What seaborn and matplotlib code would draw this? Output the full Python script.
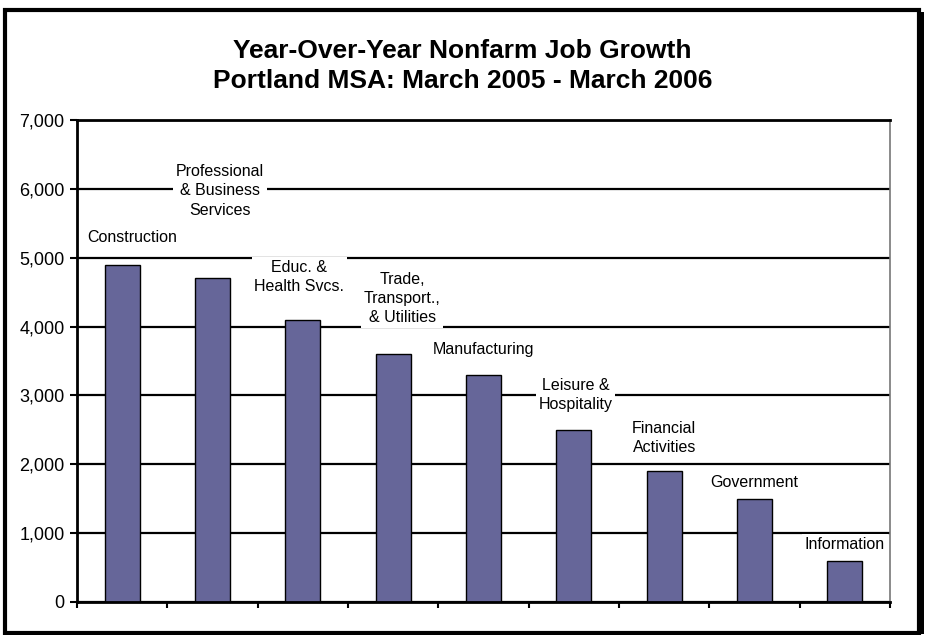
import matplotlib
matplotlib.use('Agg')
import matplotlib.pyplot as plt
from matplotlib.patches import Rectangle
import seaborn as sns
import numpy as np
import pandas as pd

# data
sectors = ['Construction', 'Professional\n& Business\nServices', 'Educ. &\nHealth Svcs.',
           'Trade,\nTransport.,\n& Utilities', 'Manufacturing', 'Leisure &\nHospitality',
           'Financial\nActivities', 'Government', 'Information']
job_growth = [4900, 4700, 4100, 3600, 3300, 2500, 1900, 1500, 600]
y_ticks = [0, 1000, 2000, 3000, 4000, 5000, 6000, 7000]

# where the category labels sit (layout only)
label_y = [5300, 5970, 4720, 4410, 3670, 3010, 2380, 1740, 840]
label_dx = [0.11, 0.08, -0.04, 0.10, 0.0, 0.02, 0.0, 0.0, 0.0]

df = pd.DataFrame({'sector': sectors, 'growth': job_growth})

sns.set_style('white')
plt.rcParams['font.family'] = ['Liberation Sans', 'DejaVu Sans']
plt.rcParams['text.color'] = 'black'
plt.rcParams['xtick.color'] = 'black'
plt.rcParams['ytick.color'] = 'black'

fig = plt.figure(figsize=(9.25, 6.35), dpi=100)
ax = fig.add_axes([77/925, 33/635, 813/925, 482/635])

sns.barplot(data=df, x='sector', y='growth', color='#666699', saturation=1,
            edgecolor='black', linewidth=1, width=0.39, ax=ax)

ax.set_xlim(-0.5, len(sectors) - 0.5)
ax.set_ylim(0, 7000)
ax.set_yticks(y_ticks)
ax.set_yticklabels([f'{v:,}' for v in y_ticks], fontsize=13, color='black')
ax.set_xticks(np.arange(-0.5, len(sectors)))
ax.set_xticklabels([])
ax.set_xlabel('')
ax.set_ylabel('')
ax.tick_params(axis='y', direction='out', length=5, width=1.5, color='black', pad=4, left=True)
ax.tick_params(axis='x', direction='out', length=4, width=1.5, color='black', bottom=True)

ax.yaxis.grid(True, color='black', linewidth=1.6)
ax.set_axisbelow(True)
for side in ['left', 'bottom', 'top']:
    ax.spines[side].set_color('black')
    ax.spines[side].set_linewidth(2)
ax.spines['right'].set_color('#777777')
ax.spines['right'].set_linewidth(1.2)

for i, name in enumerate(sectors):
    ax.text(i + label_dx[i], label_y[i], name, ha='center', va='center', fontsize=11.5,
            linespacing=1.35, zorder=4, color='black',
            bbox=dict(facecolor='white', edgecolor='none', pad=2))

fig.text(0.5, (635 - 66) / 635, 'Year-Over-Year Nonfarm Job Growth\nPortland MSA: March 2005 - March 2006',
         ha='center', va='center', fontsize=19, fontweight='bold', linespacing=1.3, color='black')

# outer frame with shadow on the right
fig.patches.append(Rectangle((917/925, 1/635), 7/925, 622/635, transform=fig.transFigure,
                             facecolor='black', edgecolor='none', zorder=0))
fig.patches.append(Rectangle((5/925, 2/635), 914/925, 623/635, transform=fig.transFigure,
                             facecolor='none', edgecolor='black', linewidth=3, zorder=1))

fig.savefig('out.png', dpi=100)
